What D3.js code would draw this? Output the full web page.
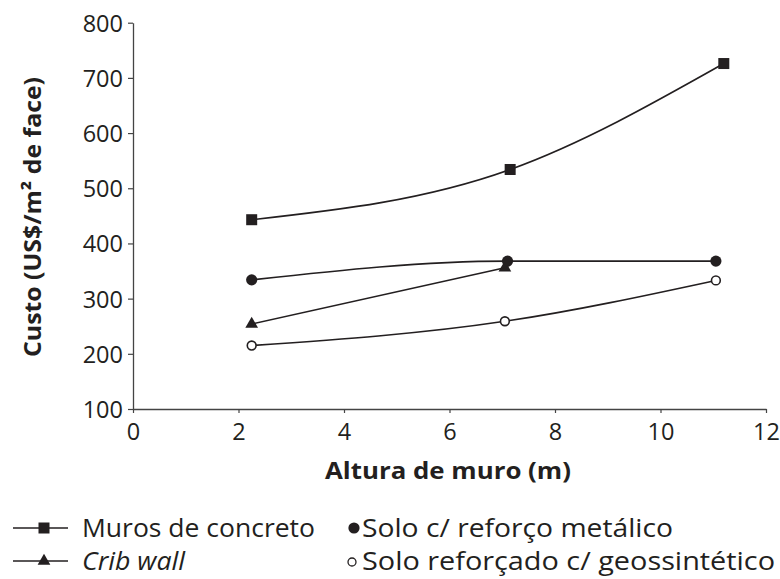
<!DOCTYPE html>
<html>
<head>
<meta charset="utf-8">
<script src="https://cdn.jsdelivr.net/npm/d3@7"></script>
<style>
  html, body { margin: 0; padding: 0; background: #fff; }
  svg { display: block; font-family: "Open Sans", sans-serif; }
</style>
</head>
<body>
<svg id="chart" width="780" height="579"></svg>
<script>
// ---- data ----
const xTicks = [0, 2, 4, 6, 8, 10, 12];
const yTicks = [100, 200, 300, 400, 500, 600, 700, 800];

const concretoX = [2.25, 7.15, 11.2];
const concretoY = [443, 534, 726];
const cribX = [2.25, 7.05];
const cribY = [254, 356];
const metalicoX = [2.25, 7.1, 11.05];
const metalicoY = [334, 368, 368];
const geoX = [2.25, 7.05, 11.05];
const geoY = [215, 259, 333];

const seriesNames = ["Muros de concreto", "Crib wall", "Solo c/ reforço metálico", "Solo reforçado c/ geossintético"];
const xLabel = "Altura de muro (m)";
const yLabel = "Custo (US$/m² de face)";

// ---- chart ----
const svg = d3.select("#chart");
const ink = "#231f20";
const x = d3.scaleLinear().domain([0, 12]).range([133, 766]);
const y = d3.scaleLinear().domain([100, 800]).range([409, 22.7]);

const zip = (xs, ys) => xs.map((v, i) => [v, ys[i]]);
const series = [
  { name: seriesNames[0], data: zip(concretoX, concretoY), sym: "square" },
  { name: seriesNames[1], data: zip(cribX, cribY), sym: "triangle" },
  { name: seriesNames[2], data: zip(metalicoX, metalicoY), sym: "circle" },
  { name: seriesNames[3], data: zip(geoX, geoY), sym: "open" }
];

// axes
const xAxis = svg.append("g").attr("transform", `translate(0,${y(100)})`)
  .call(d3.axisBottom(x).tickValues(xTicks).tickSize(4).tickSizeOuter(0).tickPadding(10));
const yAxis = svg.append("g").attr("transform", `translate(${x(0)},0)`)
  .call(d3.axisLeft(y).tickValues(yTicks).tickSize(5).tickSizeOuter(0).tickPadding(5));
[xAxis, yAxis].forEach(g => {
  g.select(".domain").attr("stroke", "#444").attr("stroke-width", 1.3);
  g.selectAll(".tick line").attr("stroke", "#444").attr("stroke-width", 1.2);
  g.selectAll(".tick text").attr("fill", ink).attr("font-size", 23.5)
    .attr("font-family", "'Open Sans', sans-serif");
});
yAxis.selectAll(".tick text").attr("dy", "0.36em");

// axis titles
svg.append("text").attr("x", 448).attr("y", 479).attr("text-anchor", "middle")
  .attr("font-weight", "bold").attr("font-size", 22.5).attr("fill", ink)
  .attr("textLength", 246).attr("lengthAdjust", "spacingAndGlyphs").text(xLabel);
svg.append("text").attr("transform", "translate(41,217) rotate(-90)").attr("text-anchor", "middle")
  .attr("font-weight", "bold").attr("font-size", 23.5).attr("fill", ink)
  .attr("textLength", 280).attr("lengthAdjust", "spacingAndGlyphs").text(yLabel);

// lines
const line = d3.line().x(d => x(d[0])).y(d => y(d[1])).curve(d3.curveMonotoneX);
series.forEach(s => {
  svg.append("path").datum(s.data).attr("d", line)
    .attr("fill", "none").attr("stroke", ink).attr("stroke-width", 1.6);
});

function drawSymbol(g, sym, cx, cy, small) {
  if (sym === "square") {
    g.append("rect").attr("x", cx - 5.5).attr("y", cy - 5.5).attr("width", 11).attr("height", 11).attr("fill", ink);
  } else if (sym === "triangle") {
    g.append("path").attr("d", d3.symbol(d3.symbolTriangle, 70)()).attr("transform", `translate(${cx},${cy})`).attr("fill", ink);
  } else if (sym === "circle") {
    g.append("circle").attr("cx", cx).attr("cy", cy).attr("r", 5.6).attr("fill", ink);
  } else {
    g.append("circle").attr("cx", cx).attr("cy", cy).attr("r", small ? 4 : 4.4).attr("fill", "#fff")
      .attr("stroke", ink).attr("stroke-width", small ? 1.3 : 1.6);
  }
}
series.forEach(s => {
  const g = svg.append("g");
  s.data.forEach(d => drawSymbol(g, s.sym, x(d[0]), y(d[1])));
});

// legend
const leg = svg.append("g");
const rows = [528, 561];
[0, 1].forEach(i => {
  leg.append("line").attr("x1", 13).attr("x2", 68).attr("y1", rows[i]).attr("y2", rows[i])
    .attr("stroke", ink).attr("stroke-width", 1.6);
  drawSymbol(leg, series[i].sym, 44, rows[i]);
});
drawSymbol(leg, "circle", 354, rows[0]);
drawSymbol(leg, "open", 352, rows[1] + 1, true);
const legTexts = [
  { t: seriesNames[0], x: 82, y: rows[0] + 9, len: 233, italic: false },
  { t: seriesNames[1], x: 82, y: rows[1] + 9, len: 103, italic: true },
  { t: seriesNames[2], x: 362, y: rows[0] + 9, len: 311, italic: false },
  { t: seriesNames[3], x: 362, y: rows[1] + 9, len: 413, italic: false }
];
legTexts.forEach(d => {
  leg.append("text").attr("x", d.x).attr("y", d.y).attr("font-size", 25.5).attr("fill", ink)
    .attr("font-style", d.italic ? "italic" : "normal")
    .attr("textLength", d.len).attr("lengthAdjust", "spacingAndGlyphs").text(d.t);
});
</script>
</body>
</html>
